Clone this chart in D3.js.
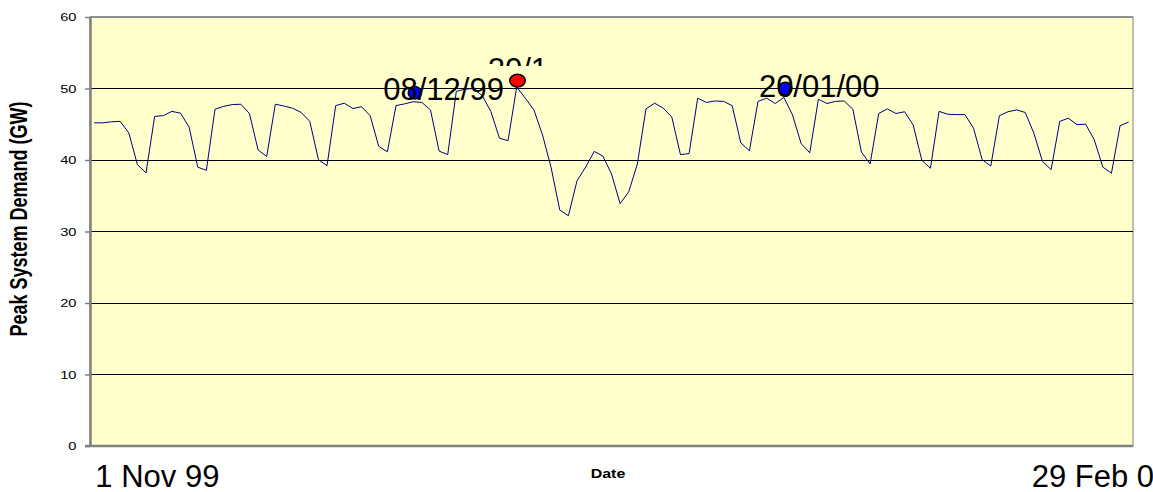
<!DOCTYPE html>
<html>
<head>
<meta charset="utf-8">
<script src="https://cdn.jsdelivr.net/npm/d3@7/dist/d3.min.js"></script>
<style>
  html, body { margin: 0; padding: 0; background: #ffffff; }
  svg { display: block; }
  text { font-family: "Liberation Sans", Arial, sans-serif; }
</style>
</head>
<body>
<svg id="chart" width="1153" height="492"></svg>
<script>
// ---- data ----
const startDate = "1999-11-01";
const endDate = "2000-02-29";
const demand = [
  45.2, 45.2, 45.35, 45.4, 43.8, 39.35, 38.2, 46.1, 46.2, 46.8, 46.55, 44.6, 39.0, 38.55, 47.1,
  47.5, 47.75, 47.8, 46.5, 41.4, 40.5, 47.8, 47.55, 47.25, 46.65, 45.4, 40.05, 39.2, 47.6, 47.95,
  47.2, 47.45, 46.2, 41.9, 41.15, 47.6, 47.85, 48.15, 48.05, 47.0, 41.25, 40.75, 49.6, 49.9, 50.0,
  49.0, 46.8, 43.05, 42.7, 50.2, 48.65, 47.0, 43.5, 38.9, 33.0, 32.2, 37.1, 39.0, 41.2, 40.55,
  38.05, 33.9, 35.55, 39.45, 47.15, 47.95, 47.25, 46.0, 40.75, 40.9, 48.65, 48.05, 48.25, 48.2, 47.6,
  42.4, 41.3, 48.2, 48.65, 47.9, 48.75, 46.3, 42.3, 41.0, 48.5, 47.9, 48.2, 48.25, 47.1, 41.1,
  39.45, 46.5, 47.15, 46.5, 46.75, 44.9, 39.95, 38.85, 46.8, 46.4, 46.35, 46.35, 44.45, 40.05, 39.15,
  46.2, 46.75, 47.0, 46.65, 43.75, 39.8, 38.65, 45.4, 45.85, 44.95, 45.0, 42.85, 39.0, 38.15, 44.8,
  45.3
];
const markerDates = ["1999-12-08", "1999-12-20", "2000-01-20"];
const markerValues = [49.4, 51.1, 50.0];
const markerLabels = ["08/12/99", "20/12/99", "20/01/00"];
const yTicks = [0, 10, 20, 30, 40, 50, 60];
const xTickLabels = ["1 Nov 99", "29 Feb 00"];
const yTitle = "Peak System Demand (GW)";
const xTitle = "Date";

// ---- layout ----
const svg = d3.select("#chart");
const L = 90, R = 1133, T = 17, B = 446;
const parse = d3.utcParse("%Y-%m-%d");
const days = d3.utcDay.range(parse(startDate), d3.utcDay.offset(parse(endDate), 1));
const keys = days.map(d => d3.utcFormat("%Y-%m-%d")(d));

const x = d3.scalePoint().domain(keys).range([L, R]).padding(0.5);
const y = d3.scaleLinear().domain([0, 60]).range([B, T]);

// plot background
svg.append("rect").attr("x", L).attr("y", T).attr("width", R - L).attr("height", B - T)
  .attr("fill", "#FFFFCC").attr("stroke", "#808080").attr("stroke-width", 1);

// gridlines
svg.append("g").selectAll("line").data(yTicks.filter(v => v > 0 && v < 60)).join("line")
  .attr("x1", L).attr("x2", R).attr("y1", d => y(d)).attr("y2", d => y(d))
  .attr("stroke", "#000").attr("stroke-width", 1).attr("shape-rendering", "crispEdges");
svg.append("line").attr("x1", L).attr("x2", R).attr("y1", y(60)).attr("y2", y(60))
  .attr("stroke", "#808080").attr("stroke-width", 1.5);

// y axis
const yAxis = svg.append("g").attr("transform", `translate(${L},0)`)
  .call(d3.axisLeft(y).tickValues(yTicks).tickSize(5).tickSizeOuter(0).tickPadding(6));
yAxis.select(".domain").attr("stroke", "#808080").attr("stroke-width", 2.5);
yAxis.selectAll(".tick line").attr("stroke", "#808080").attr("stroke-width", 1.5);
yAxis.selectAll(".tick text").attr("font-size", 11).attr("fill", "#000")
  .attr("x", -13.5 / 1.33).attr("transform", "scale(1.33,1)");

// bottom axis line
svg.append("line").attr("x1", L - 5).attr("x2", R).attr("y1", B).attr("y2", B)
  .attr("stroke", "#808080").attr("stroke-width", 2.5);

// demand line
const line = d3.line().x((d, i) => x(keys[i])).y(d => y(d));
svg.append("path").datum(demand).attr("d", line)
  .attr("fill", "none").attr("stroke", "#000080").attr("stroke-width", 1);

// markers
const maxV = d3.max(markerValues);
const mg = svg.append("g");
markerDates.forEach((k, i) => {
  const isMax = markerValues[i] === maxV;
  mg.append("ellipse")
    .attr("cx", x(k) + (isMax ? 0.8 : 1.5)).attr("cy", y(markerValues[i]))
    .attr("rx", isMax ? 7.8 : 6.5).attr("ry", 6.3)
    .attr("fill", isMax ? "#FF0000" : "#0000FF")
    .attr("stroke", "#000").attr("stroke-width", 1.5);
});

// clip for the partially hidden label
const defs = svg.append("defs");
const maxIdx = markerValues.indexOf(maxV);
defs.append("clipPath").attr("id", "lblclip").append("rect")
  .attr("x", x(markerDates[maxIdx]) - 40).attr("y", 0)
  .attr("width", 70).attr("height", 66);

markerDates.forEach((k, i) => {
  const isMax = i === maxIdx;
  const t = svg.append("text")
    .attr("x", x(k) + (isMax ? -29 : (i === 0 ? -30 : -25)))
    .attr("y", isMax ? y(markerValues[i]) - 0.5 : y(markerValues[i]) + (i === 0 ? 7.5 : 8))
    .attr("font-size", 31).attr("fill", "#000")
    .text(markerLabels[i]);
  if (isMax) t.attr("clip-path", "url(#lblclip)");
});

// x tick labels
svg.append("text").attr("x", x(keys[0]) + 1).attr("y", 487)
  .attr("font-size", 31).attr("fill", "#000").text(xTickLabels[0]);
svg.append("text").attr("x", x(keys[keys.length - 1]) - 97).attr("y", 487)
  .attr("font-size", 31).attr("fill", "#000").text(xTickLabels[1]);

// axis titles
svg.append("text").attr("transform", "translate(608,478) scale(1.33,1)")
  .attr("text-anchor", "middle").attr("font-size", 12).attr("font-weight", "bold")
  .text(xTitle);
svg.append("text").attr("transform", "translate(27,219) scale(1.3,1) rotate(-90)")
  .attr("text-anchor", "middle").attr("font-size", 18).attr("font-weight", "bold")
  .text(yTitle);
</script>
</body>
</html>
